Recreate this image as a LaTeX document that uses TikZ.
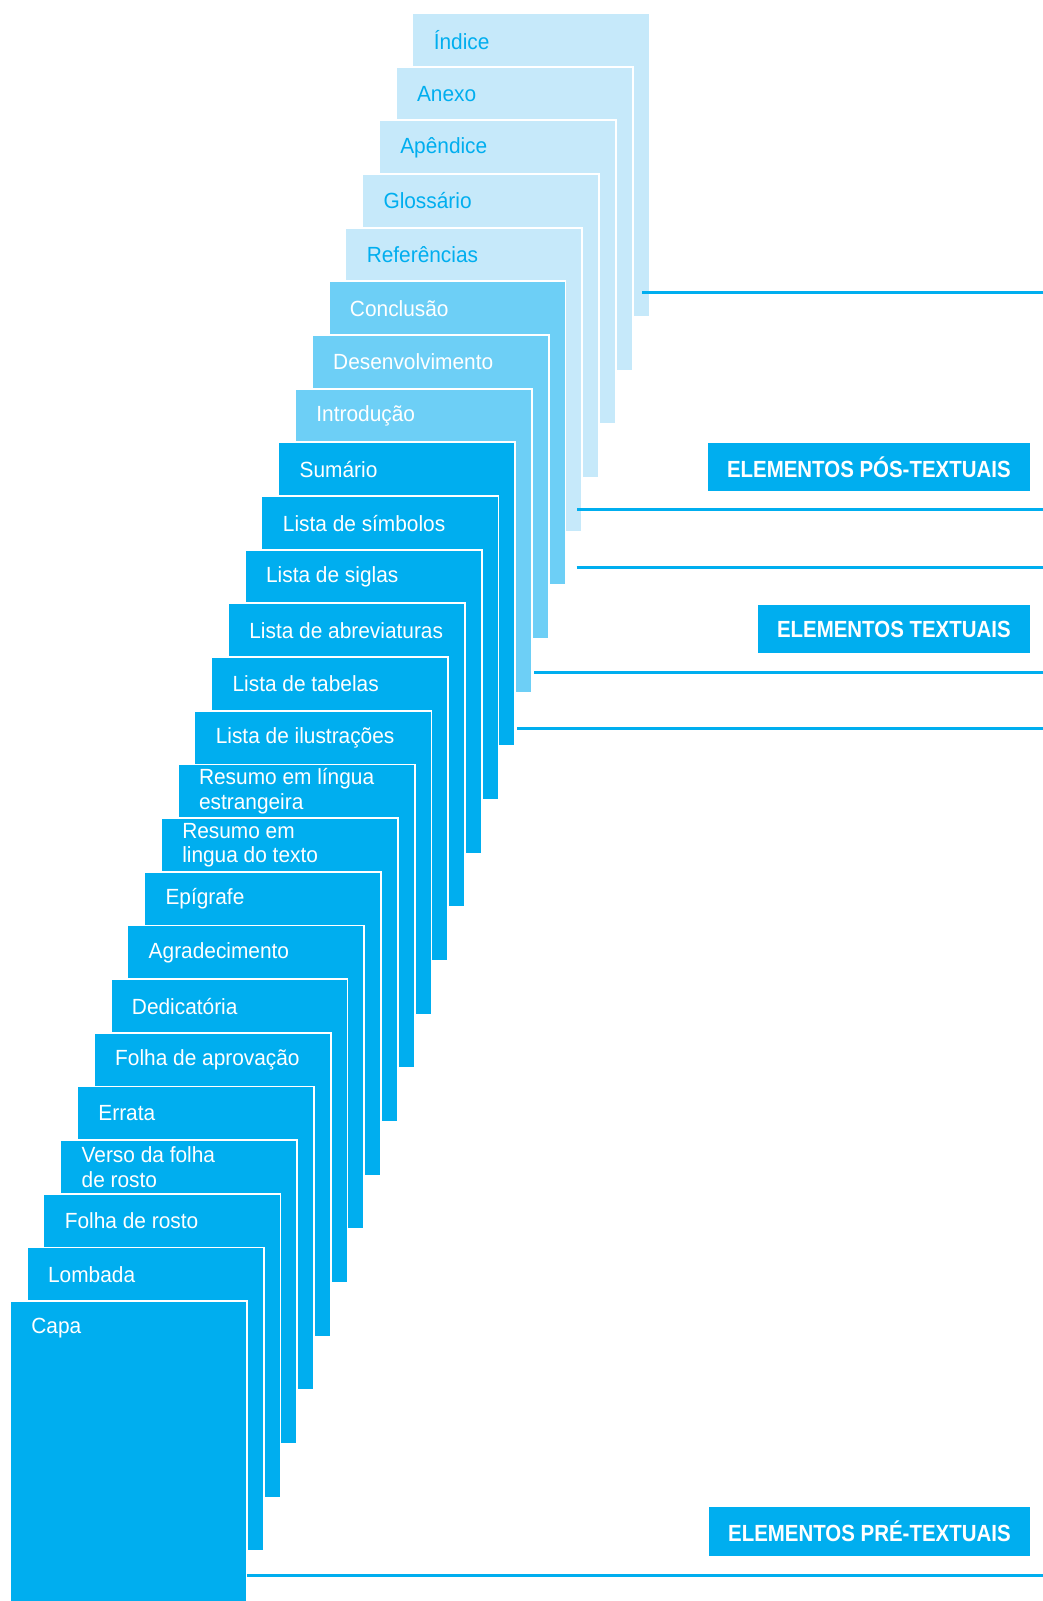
\documentclass[tikz,border=0pt]{standalone}
\usepackage{fontspec}
\newfontfamily\pagefont[FakeStretch=0.95]{Liberation Sans}
\newfontfamily\tagfont[FakeStretch=0.875]{Liberation Sans}
\definecolor{deep}{HTML}{00AEEF}
\definecolor{mid}{HTML}{6DCFF6}
\definecolor{pale}{HTML}{C6E9FA}
\tikzset{
  page/.style={draw=white, line width=1pt, minimum width=4.74cm, minimum height=6.08cm, inner sep=0pt, outer sep=0pt, anchor=north west},
  pagetext/.style={anchor=west, align=left, inner sep=0pt, font=\fontsize{12.5}{14}\pagefont},
  tag/.style={fill=deep, text=white, anchor=east, inner xsep=0.38cm, inner ysep=0pt, minimum height=0.98cm, font=\fontsize{13.3}{15}\tagfont\bfseries},
  rule/.style={draw=deep, line width=0.06cm}
}
\begin{document}
\begin{tikzpicture}[x=0.02cm, y=-0.02cm]
\useasboundingbox (0,0) rectangle (1043,1601);
\foreach \i/\bg/\fg/\txt in {
  24/pale/deep/Índice, 23/pale/deep/Anexo, 22/pale/deep/Apêndice, 21/pale/deep/Glossário, 20/pale/deep/Referências,
  19/mid/white/Conclusão, 18/mid/white/Desenvolvimento, 17/mid/white/Introdução,
  16/deep/white/Sumário, 15/deep/white/Lista de símbolos, 14/deep/white/Lista de siglas,
  13/deep/white/Lista de abreviaturas, 12/deep/white/Lista de tabelas, 11/deep/white/Lista de ilustrações,
  10/deep/white/{Resumo em língua\\estrangeira}, 9/deep/white/{Resumo em\\lingua do texto},
  8/deep/white/Epígrafe, 7/deep/white/Agradecimento, 6/deep/white/Dedicatória,
  5/deep/white/Folha de aprovação, 4/deep/white/Errata, 3/deep/white/{Verso da folha\\de rosto},
  2/deep/white/Folha de rosto, 1/deep/white/Lombada, 0/deep/white/Capa} {
  \node[page, fill=\bg] (p\i) at ({10+16.77*\i},{13+53.67*(24-\i)}) {};
  \node[pagetext, text=\fg] (t\i) at ([shift={(21,27)}]p\i.north west) {\txt};
}
\coordinate (e1) at (1043,293);
\coordinate (e2) at (1043,509);
\coordinate (e3) at (1043,567);
\coordinate (e4) at (1043,672);
\coordinate (e5) at (1043,728);
\coordinate (e6) at (1043,1575);
\draw[rule] ([xshift=-0.14cm]p24.east |- e1) -- (e1);
\draw[rule] ([xshift=-0.1cm]p20.east |- e2) -- (e2);
\draw[rule] ([xshift=0.22cm]p19.east |- e3) -- (e3);
\draw[rule] ([xshift=0.04cm]p17.east |- e4) -- (e4);
\draw[rule] ([xshift=0.04cm]p16.east |- e5) -- (e5);
\draw[rule] (p0.east |- e6) -- (e6);
\node[tag] (pos) at (1030,467) {ELEMENTOS PÓS-TEXTUAIS};
\node[tag] (textual) at (1030,629) {ELEMENTOS TEXTUAIS};
\node[tag] (pre) at (1030,1531) {ELEMENTOS PRÉ-TEXTUAIS};
\end{tikzpicture}
\end{document}
